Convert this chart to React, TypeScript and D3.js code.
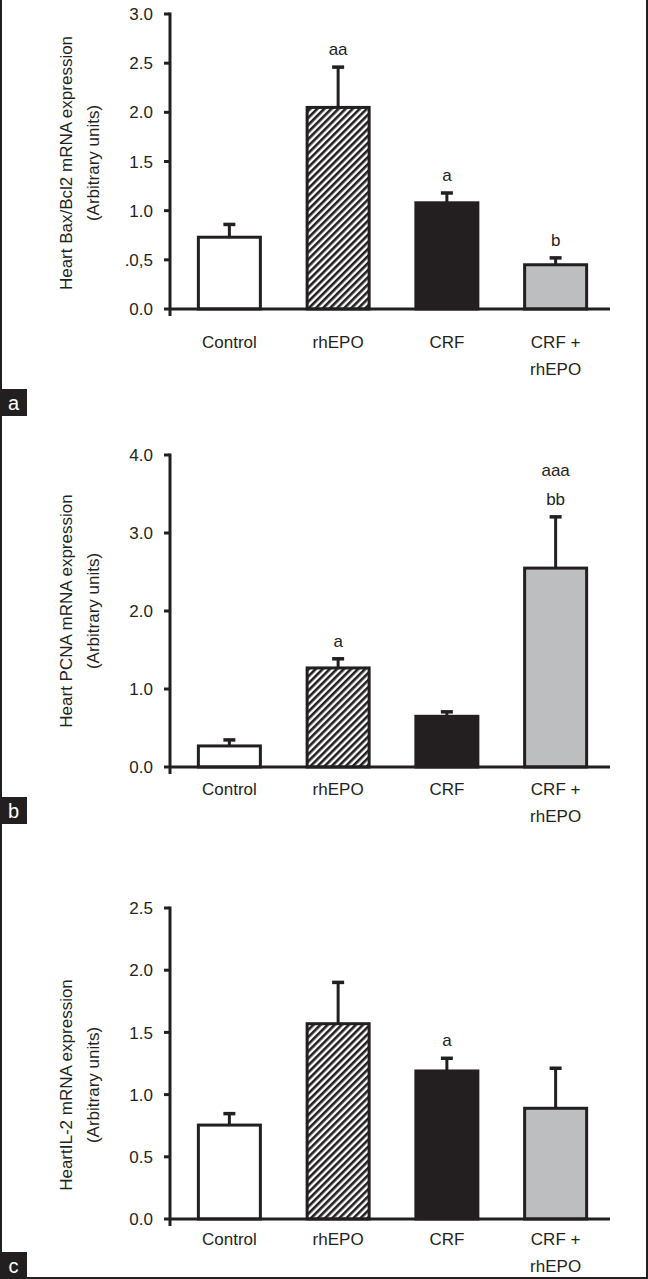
import React from "react";
import * as d3 from "d3";

const categories = ["Control", "rhEPO", "CRF", "CRF + rhEPO"];
const categoryLines = [["Control"], ["rhEPO"], ["CRF"], ["CRF +", "rhEPO"]];

const baxValues = [0.73, 2.05, 1.08, 0.45];
const baxSem = [0.14, 0.42, 0.11, 0.08];
const baxTicks = [0, 0.5, 1, 1.5, 2, 2.5, 3];
const baxTickLabels = ["0.0", ".0,5", "1.0", "1.5", "2.0", "2.5", "3.0"];
const baxMarks = ["", "aa", "a", "b"];

const pcnaValues = [0.27, 1.27, 0.65, 2.55];
const pcnaSem = [0.09, 0.13, 0.07, 0.67];
const pcnaTicks = [0, 1, 2, 3, 4];
const pcnaTickLabels = ["0.0", "1.0", "2.0", "3.0", "4.0"];
const pcnaMarks = ["", "a", "", "aaa|bb"];

const il2Values = [0.755, 1.57, 1.19, 0.89];
const il2Sem = [0.1, 0.34, 0.11, 0.33];
const il2Ticks = [0, 0.5, 1, 1.5, 2, 2.5];
const il2TickLabels = ["0.0", "0.5", "1.0", "1.5", "2.0", "2.5"];
const il2Marks = ["", "", "a", ""];

const INK = "#231f20";
const GRAY = "#bcbec0";
const FONT = "'Liberation Sans', Arial, Helvetica, sans-serif";
const fills = ["#ffffff", "url(#hatch)", INK, GRAY];

type PanelSpec = {
  letter: string;
  values: number[];
  sem: number[];
  ticks: number[];
  tickLabels: string[];
  marks: string[];
  yMax: number;
  y0: number;
  yTop: number;
  title: string[];
  titleY: number;
  labelOffset: number;
  boxTop: number;
};

const panels: PanelSpec[] = [
  {
    letter: "a", values: baxValues, sem: baxSem, ticks: baxTicks, tickLabels: baxTickLabels,
    marks: baxMarks, yMax: 3, y0: 309, yTop: 14,
    title: ["Heart Bax/Bcl2 mRNA expression", "(Arbitrary units)"], titleY: 163,
    labelOffset: 33, boxTop: 389,
  },
  {
    letter: "b", values: pcnaValues, sem: pcnaSem, ticks: pcnaTicks, tickLabels: pcnaTickLabels,
    marks: pcnaMarks, yMax: 4, y0: 767, yTop: 455,
    title: ["Heart PCNA mRNA expression", "(Arbitrary units)"], titleY: 611,
    labelOffset: 22, boxTop: 797,
  },
  {
    letter: "c", values: il2Values, sem: il2Sem, ticks: il2Ticks, tickLabels: il2TickLabels,
    marks: il2Marks, yMax: 2.5, y0: 1219, yTop: 908,
    title: ["HeartIL-2 mRNA expression", "(Arbitrary units)"], titleY: 1085,
    labelOffset: 20, boxTop: 1252,
  },
];

const AXIS_X = 170;
const AXIS_END = 610;

const x = d3.scaleBand<string>().domain(categories).range([175, 610]).padding(0);
const BAR_W = 62;

function Panel({ p }: { p: PanelSpec }) {
  const y = d3.scaleLinear().domain([0, p.yMax]).range([p.y0, p.yTop]);
  return (
    <g>
      {/* title */}
      {p.title.map((t, i) => (
        <text
          key={t}
          transform={`translate(${66 + i * 27},${p.titleY}) rotate(-90)`}
          textAnchor="middle"
          dominantBaseline="central"
          fontSize={17}
          fill={INK}
          fontFamily={FONT}
        >
          {t}
        </text>
      ))}
      {/* ticks */}
      {p.ticks.map((t, i) => (
        <g key={t}>
          <line x1={AXIS_X - 6} x2={AXIS_X} y1={y(t)} y2={y(t)} stroke={INK} strokeWidth={3} />
          <text
            x={AXIS_X - 17}
            y={y(t)}
            dy="0.36em"
            textAnchor="end"
            fontSize={17}
            fill={INK}
            fontFamily={FONT}
          >
            {p.tickLabels[i]}
          </text>
        </g>
      ))}
      {/* bars */}
      {categories.map((c, i) => {
        const cx = (x(c) as number) + x.bandwidth() / 2;
        const top = y(p.values[i]);
        const errTop = y(p.values[i] + p.sem[i]);
        const marks = p.marks[i] ? p.marks[i].split("|") : [];
        return (
          <g key={c}>
            <line x1={cx} x2={cx} y1={top} y2={errTop} stroke={INK} strokeWidth={3} />
            <line x1={cx - 6} x2={cx + 6} y1={errTop + 1} y2={errTop + 1} stroke={INK} strokeWidth={3.5} />
            <rect
              x={cx - BAR_W / 2}
              y={top}
              width={BAR_W}
              height={p.y0 - top}
              fill={fills[i]}
              stroke={INK}
              strokeWidth={3}
            />
            {marks.map((m, k) => (
              <text
                key={k}
                x={cx}
                y={errTop - 17 - (marks.length - 1 - k) * 29}
                dy="0.36em"
                textAnchor="middle"
                fontSize={17}
                fill={INK}
                fontFamily={FONT}
              >
                {m}
              </text>
            ))}
            {categoryLines[i].map((l, k) => (
              <text
                key={l}
                x={cx}
                y={p.y0 + p.labelOffset + k * 27}
                dy="0.36em"
                textAnchor="middle"
                fontSize={17}
                fill={INK}
                fontFamily={FONT}
              >
                {l}
              </text>
            ))}
          </g>
        );
      })}
      {/* axes */}
      <line x1={AXIS_X} x2={AXIS_END} y1={p.y0} y2={p.y0} stroke={INK} strokeWidth={3} />
      <line x1={AXIS_X} x2={AXIS_X} y1={p.yTop - 1.5} y2={p.y0 + 7} stroke={INK} strokeWidth={3} />
      {/* panel letter box */}
      <rect x={0} y={p.boxTop} width={27} height={27} fill={INK} />
      <text
        x={13.5}
        y={p.boxTop + 13.5}
        dy="0.36em"
        textAnchor="middle"
        fontSize={20}
        fill="#ffffff"
        fontFamily={FONT}
      >
        {p.letter}
      </text>
    </g>
  );
}

export default function App() {
  return (
    <svg
      width={648}
      height={1279}
      viewBox="0 0 648 1279"
      style={{ position: "absolute", left: 0, top: 0, display: "block", background: "#ffffff" }}
    >
      <defs>
        <pattern id="hatch" patternUnits="userSpaceOnUse" width={5} height={5} patternTransform="rotate(45)">
          <rect x={0} y={0} width={5} height={5} fill="#ffffff" />
          <rect x={0} y={0} width={2.6} height={5} fill={INK} />
        </pattern>
      </defs>
      <rect x={0} y={0} width={648} height={1279} fill="#ffffff" />
      {/* frame */}
      <line x1={1} x2={1} y1={0} y2={1279} stroke={INK} strokeWidth={2} />
      <line x1={647} x2={647} y1={0} y2={1279} stroke={INK} strokeWidth={2} />
      <line x1={0} x2={648} y1={1278} y2={1278} stroke={INK} strokeWidth={2} />
      {panels.map((p) => (
        <Panel key={p.letter} p={p} />
      ))}
    </svg>
  );
}
